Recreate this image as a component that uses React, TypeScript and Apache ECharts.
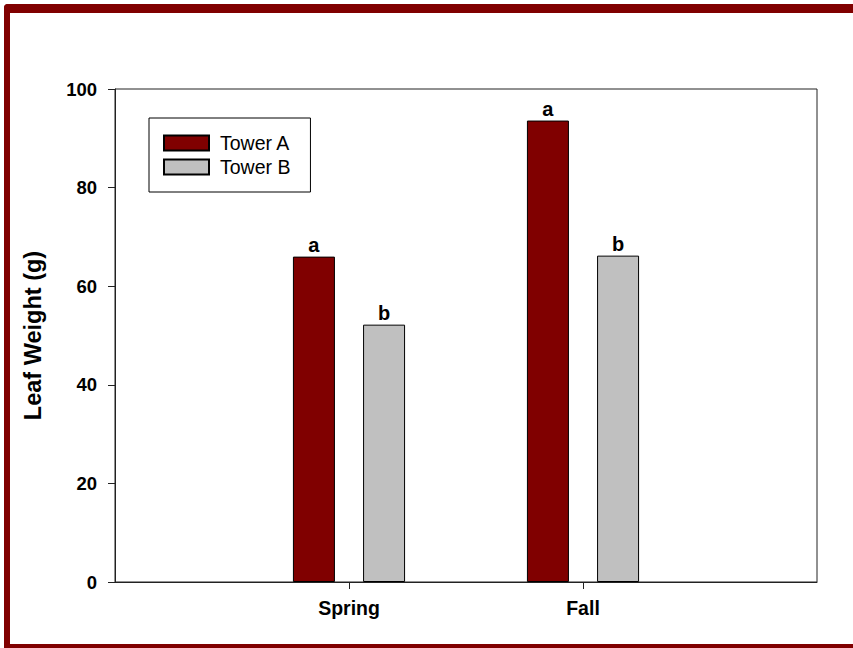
import React, { useEffect, useRef } from "react";
import * as echarts from "echarts";

const categories = ["Spring", "Fall"];
const towerA = [66, 93.6];
const towerB = [52.2, 66.2];
const lettersA = ["a", "a"];
const lettersB = ["b", "b"];
const seriesNames = ["Tower A", "Tower B"];
const yTicks = { min: 0, max: 100, interval: 20 };

const FONT = '"Liberation Sans", Arial, Helvetica, sans-serif';
const MAROON = "#800000";

export default function App() {
  const ref = useRef<HTMLDivElement>(null);

  useEffect(() => {
    if (!ref.current) return;
    const chart = echarts.init(ref.current, undefined, { renderer: "svg" });
    const axisData = ["", ...categories, ""];
    const padData = (arr: number[]) => ["-", ...arr, "-"] as any[];
    const padLetters = (arr: string[]) => ["", ...arr, ""];
    const la = padLetters(lettersA);
    const lb = padLetters(lettersB);

    chart.setOption({
      animation: false,
      backgroundColor: "#fff",
      textStyle: { fontFamily: FONT },
      graphic: [
        { type: "rect", shape: { x: 4, y: 4, width: 860, height: 9, r: [4, 0, 0, 0] }, style: { fill: MAROON } },
        { type: "rect", shape: { x: 4, y: 4, width: 6, height: 650, r: [4, 0, 0, 0] }, style: { fill: MAROON } },
        { type: "rect", shape: { x: 4, y: 644, width: 860, height: 10 }, style: { fill: MAROON } },
      ],
      grid: {
        left: 115,
        top: 89,
        right: 36,
        bottom: 66,
        show: true,
        borderColor: "#222",
        borderWidth: 1,
        backgroundColor: "transparent",
      },
      legend: {
        data: seriesNames,
        orient: "vertical",
        left: 149,
        top: 118,
        padding: [15, 20, 15, 14],
        borderColor: "#000",
        borderWidth: 1,
        itemWidth: 45,
        itemHeight: 15,
        itemGap: 4,
        icon: "rect",
        textStyle: { fontSize: 19.5, color: "#000", fontFamily: FONT, padding: [0, 0, 0, 6] },
      },
      xAxis: {
        type: "category",
        data: axisData,
        boundaryGap: false,
        axisLine: { lineStyle: { color: "#222", width: 1 } },
        axisTick: {
          show: true,
          length: 7,
          interval: (index: number) => index > 0 && index < axisData.length - 1,
          lineStyle: { color: "#222" },
        },
        axisLabel: {
          fontSize: 19.5,
          fontWeight: "bold",
          color: "#000",
          margin: 16,
          fontFamily: FONT,
          interval: 0,
        },
        splitLine: { show: false },
      },
      yAxis: {
        type: "value",
        min: yTicks.min,
        max: yTicks.max,
        interval: yTicks.interval,
        name: "Leaf Weight (g)",
        nameLocation: "middle",
        nameGap: 70,
        nameTextStyle: { fontSize: 23.5, fontWeight: "bold", color: "#000", fontFamily: FONT },
        axisLine: { show: true, lineStyle: { color: "#222", width: 1 } },
        axisTick: { show: true, length: 7, lineStyle: { color: "#222" } },
        axisLabel: { fontSize: 18.5, fontWeight: "bold", color: "#000", margin: 18, fontFamily: FONT },
        splitLine: { show: false },
      },
      series: [
        {
          name: seriesNames[0],
          type: "bar",
          data: padData(towerA),
          barWidth: 42,
          barGap: "67%",
          itemStyle: { color: MAROON, borderColor: "#000", borderWidth: 1 },
          label: {
            show: true,
            position: "top",
            distance: 2,
            fontSize: 20,
            fontWeight: "bold",
            color: "#000",
            fontFamily: FONT,
            formatter: (p: any) => la[p.dataIndex],
          },
        },
        {
          name: seriesNames[1],
          type: "bar",
          data: padData(towerB),
          barWidth: 42,
          barGap: "67%",
          itemStyle: { color: "#C0C0C0", borderColor: "#000", borderWidth: 1 },
          label: {
            show: true,
            position: "top",
            distance: 2,
            fontSize: 20,
            fontWeight: "bold",
            color: "#000",
            fontFamily: FONT,
            formatter: (p: any) => lb[p.dataIndex],
          },
        },
      ],
    });
    return () => chart.dispose();
  }, []);

  return (
    <div
      ref={ref}
      style={{ position: "fixed", left: 0, top: 0, width: 853, height: 648 }}
    />
  );
}
